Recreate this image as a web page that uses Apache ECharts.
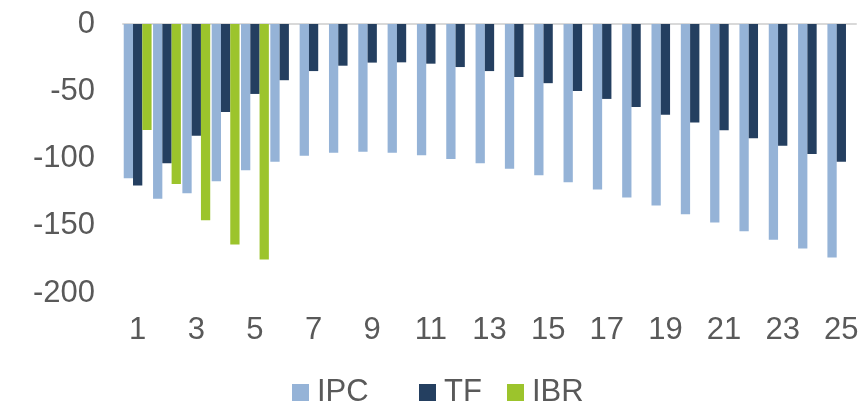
<!DOCTYPE html>
<html>
<head>
<meta charset="utf-8">
<script src="https://cdn.jsdelivr.net/npm/echarts@6/dist/echarts.min.js"></script>
<style>html,body{margin:0;padding:0;background:#fff;}#c{width:862px;height:404px;}</style>
</head>
<body>
<div id="c"></div>
<script>
var categories = ['1','2','3','4','5','6','7','8','9','10','11','12','13','14','15','16','17','18','19','20','21','22','23','24','25'];
var ipc = [-114.6,-130,-125.8,-117,-108.7,-102.5,-98,-95.8,-95,-95.8,-97.6,-100.3,-103.5,-107.7,-112.4,-117.6,-123,-129,-135,-141.4,-147.6,-154,-160.5,-167,-173.6];
var tf = [-120,-103.5,-83,-65.4,-52,-41.8,-35,-31,-28.7,-28.5,-29.5,-32,-35,-39.4,-44,-49.8,-55.7,-61.7,-67.4,-73.3,-79,-85,-90.6,-96.6,-102.5];
var ibr = [-78.8,-119,-146,-164,-175,null,null,null,null,null,null,null,null,null,null,null,null,null,null,null,null,null,null,null,null];
var yTicks = {min:-200, max:0, interval:50};

var chart = echarts.init(document.getElementById('c'));
var font = '"Liberation Sans", Arial, sans-serif';
var legendText = {fontSize:31, color:'#595959', fontFamily:font, padding:[0,0,0,3]};
function leg(name, left){
  return {data:[name], left:left, top:377, itemWidth:17, itemHeight:17, itemGap:0, icon:'rect', textStyle:legendText, padding:0};
}
chart.setOption({
  animation:false,
  grid:{left:123, right:6, top:24, bottom:111},
  legend:[leg('IPC',292), leg('TF',419), leg('IBR',507)],
  xAxis:[{
    type:'category', data:categories, position:'bottom',
    axisLine:{show:false, onZero:false}, axisTick:{show:false},
    axisLabel:{interval:1, fontSize:31, color:'#595959', fontFamily:font, margin:22}
  },{
    type:'category', data:categories, position:'top',
    axisLine:{show:true, onZero:false, lineStyle:{color:'#d9d9d9', width:2}}, axisTick:{show:false},
    axisLabel:{show:false}
  }],
  yAxis:{
    type:'value', min:yTicks.min, max:yTicks.max, interval:yTicks.interval,
    splitLine:{show:false}, axisLine:{show:false}, axisTick:{show:false},
    axisLabel:{fontSize:31, color:'#595959', fontFamily:font, margin:28}
  },
  series:[
    {name:'IPC', type:'bar', data:ipc, itemStyle:{color:'#95B3D7'}, barGap:'0%', barCategoryGap:'5%'},
    {name:'TF', type:'bar', data:tf, itemStyle:{color:'#243F60'}, barGap:'0%', barCategoryGap:'5%'},
    {name:'IBR', type:'bar', data:ibr, itemStyle:{color:'#9CC42C'}, barGap:'0%', barCategoryGap:'5%'}
  ]
});
</script>
</body>
</html>
